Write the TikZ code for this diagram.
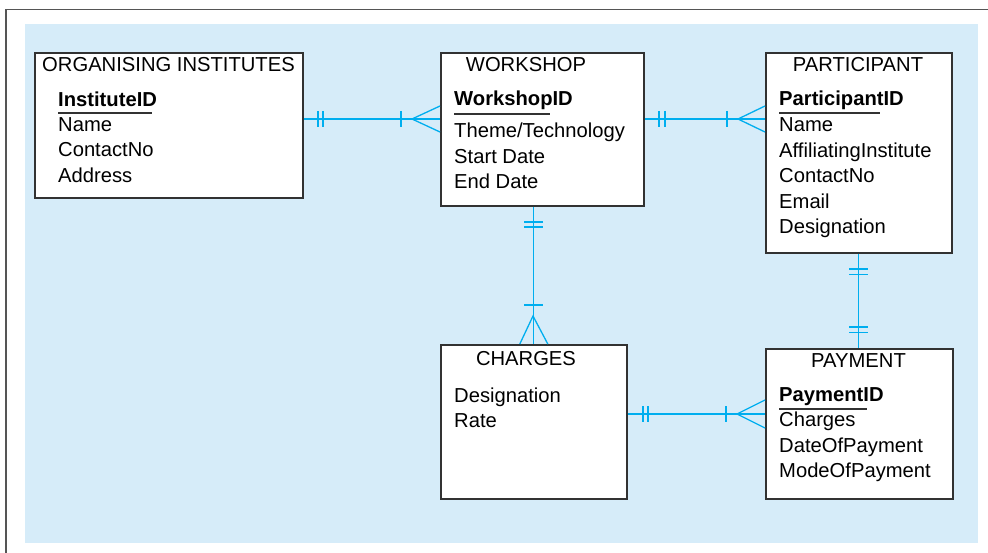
\documentclass[tikz,border=0pt]{standalone}
\usepackage{fontspec}
\setmainfont{Liberation Sans}
\definecolor{bgblue}{RGB}{214,236,249}
\definecolor{relblue}{RGB}{0,174,239}
\definecolor{framegray}{RGB}{85,85,85}
\definecolor{boxline}{RGB}{50,50,50}
\begin{document}
\begin{tikzpicture}[x=1pt,y=-1pt,
  entity/.style={draw=boxline, line width=1.6pt, fill=white, anchor=north west, inner sep=0pt},
  rel/.style={draw=relblue, line width=1.3pt},
  txt/.style={anchor=base west, inner sep=0pt, font=\fontsize{20.2}{24}\selectfont},
  key/.style={txt, font=\fontsize{20.2}{24}\selectfont\bfseries},
  ttl/.style={anchor=base, inner sep=0pt, font=\fontsize{20.2}{24}\selectfont},
  uline/.style={draw=boxline, line width=1.3pt}]
\useasboundingbox (0,0) rectangle (988,553);
% background and frame
\fill[bgblue] (25,24) rectangle (978,543);
\draw[framegray, line width=1.6pt] (6,553) -- (6,9.5) -- (988,9.5);

% entities
\node[entity, minimum width=268pt, minimum height=145pt] (org) at (34,52) {};
\node[entity, minimum width=203pt, minimum height=153pt] (ws) at (440,52) {};
\node[entity, minimum width=186pt, minimum height=200pt] (part) at (765,52) {};
\node[entity, minimum width=186pt, minimum height=154pt] (chg) at (440,344) {};
\node[entity, minimum width=187pt, minimum height=150pt] (pay) at (765,348) {};

% ORGANISING INSTITUTES
\node[ttl] (orgT) at (168.5,72) {ORGANISING INSTITUTES};
\node[key] (orgK) at (58,106.5) {InstituteID};
\node[txt] (orgA1) at (58,131.7) {Name};
\node[txt] (orgA2) at (58,156.9) {ContactNo};
\node[txt] (orgA3) at (58,182.5) {Address};
\draw[uline] (58,113) -- (152,113);

% WORKSHOP
\node[ttl] (wsT) at (526,72) {WORKSHOP};
\node[key] (wsK) at (454,106) {WorkshopID};
\node[txt] (wsA1) at (454,138) {Theme/Technology};
\node[txt] (wsA2) at (454,163.3) {Start Date};
\node[txt] (wsA3) at (454,189) {End Date};
\draw[uline] (454,114) -- (550,114);

% PARTICIPANT
\node[ttl] (partT) at (858,72) {PARTICIPANT};
\node[key] (partK) at (779,106) {ParticipantID};
\node[txt] (partA1) at (779,131.7) {Name};
\node[txt] (partA2) at (779,157.3) {AffiliatingInstitute};
\node[txt] (partA3) at (779,183) {ContactNo};
\node[txt] (partA4) at (779,208.5) {Email};
\node[txt] (partA5) at (779,234) {Designation};
\draw[uline] (779,113) -- (880,113);

% CHARGES
\node[ttl] (chgT) at (526,365) {CHARGES};
\node[txt] (chgA1) at (454,402.5) {Designation};
\node[txt] (chgA2) at (454,427.8) {Rate};

% PAYMENT
\node[ttl] (payT) at (858.5,367.7) {PAYMENT};
\node[key] (payK) at (779,401.7) {PaymentID};
\node[txt] (payA1) at (779,426.7) {Charges};
\node[txt] (payA2) at (779,452.5) {DateOfPayment};
\node[txt] (payA3) at (779,477.7) {ModeOfPayment};
\draw[uline] (779,409) -- (867,409);

% ORG -- WORKSHOP
\draw[rel] ([yshift=-67pt]org.north east) -- ([yshift=-67pt]ws.north west);
\draw[rel] (318,111) -- (318,127) (323,111) -- (323,127) (401,111) -- (401,127);
\draw[rel] ([yshift=-54pt]ws.north west) -- (412,119) -- ([yshift=-80pt]ws.north west);

% WORKSHOP -- PARTICIPANT
\draw[rel] ([yshift=-67pt]ws.north east) -- ([yshift=-67pt]part.north west);
\draw[rel] (659,111) -- (659,127) (665,111) -- (665,127) (727,111) -- (727,127);
\draw[rel] ([yshift=-54pt]part.north west) -- (738,119) -- ([yshift=-80pt]part.north west);

% WORKSHOP -- CHARGES
\draw[rel] ([xshift=-8.5pt]ws.south) -- ([xshift=-0pt]chg.north);
\draw[rel] (524,222) -- (543,222) (524,227) -- (543,227) (524,305) -- (543,305);
\draw[rel] ([xshift=-14pt]chg.north) -- (533,316) -- ([xshift=14pt]chg.north);

% PARTICIPANT -- PAYMENT
\draw[rel] (part.south) -- ([xshift=-0.5pt]pay.north);
\draw[rel] (849,269) -- (868,269) (849,274.5) -- (868,274.5) (849,327) -- (868,327) (849,332.5) -- (868,332.5);

% CHARGES -- PAYMENT
\draw[rel] ([yshift=-70pt]chg.north east) -- ([yshift=-66pt]pay.north west);
\draw[rel] (643,406) -- (643,422) (648,406) -- (648,422) (726,406) -- (726,422);
\draw[rel] ([yshift=-52pt]pay.north west) -- (737,414) -- ([yshift=-80pt]pay.north west);
\end{tikzpicture}
\end{document}
